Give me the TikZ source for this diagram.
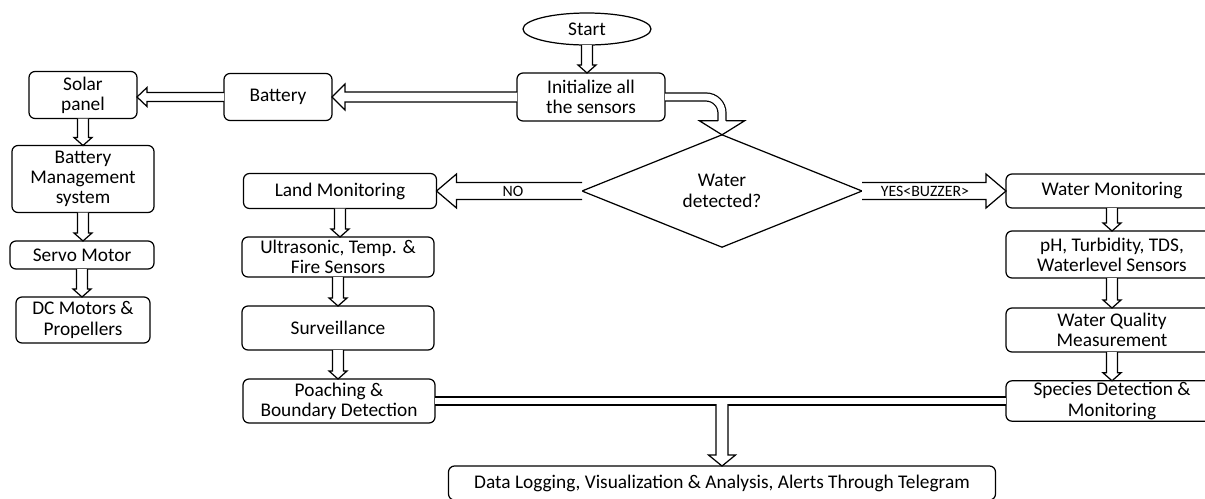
\documentclass[tikz,border=0pt]{standalone}
\usepackage{fontspec}
\setmainfont{Carlito}
\usepackage{tikz}
\usetikzlibrary{
  shapes.geometric,
  positioning,
  calc
}

% hollow block arrow: from, to, shaft half width, head half width, head length
\newcommand{\blockarrow}[5]{%
  \coordinate (hb) at ($(#2)!#5!(#1)$);
  \draw[barrow] ($(#1)!#3!90:(#2)$) -- ($(hb)!#3!90:(#2)$) -- ($(hb)!#4!90:(#2)$)
    -- (#2) -- ($(hb)!#4!-90:(#2)$) -- ($(hb)!#3!-90:(#2)$) -- ($(#1)!#3!-90:(#2)$);
}

\begin{document}
\begin{tikzpicture}[
  x=0.2mm, y=-0.2mm,
  box/.style={draw, rounded corners=1.2mm, line width=0.7pt, align=center, inner sep=1pt, outer sep=0pt,
    font=\fontsize{11}{11.5}\selectfont},
  term/.style={ellipse, draw, line width=0.7pt, inner sep=0pt, outer sep=0pt,
    minimum width=25.6mm, minimum height=6.4mm, font=\fontsize{11}{11.5}\selectfont},
  dec/.style={diamond, draw, line width=0.7pt, inner sep=0pt, outer sep=0pt, align=center,
    minimum width=56mm, minimum height=12.4mm, font=\fontsize{11}{12}\selectfont},
  barrow/.style={draw, fill=white, line width=0.7pt, line join=miter},
  dbl/.style={double, double distance=1.6mm-0.7pt, line width=0.7pt},
  lbl/.style={inner sep=0pt, font=\fontsize{9}{10}\selectfont}
]
  \useasboundingbox (0,0) rectangle (1205,498);

  \node[term] (start) at (587,29) {Start};
  \node[box, minimum width=29.6mm, minimum height=9.6mm] (init) at (591,97) {Initialize all\\the sensors};
  \node[box, minimum width=21.6mm, minimum height=9.4mm] (battery) at (278,97) {Battery};
  \node[box, minimum width=21.6mm, minimum height=9.4mm] (solar) at (83,95) {Solar\\panel};
  \node[box, minimum width=28.4mm, minimum height=13.4mm] (bms) at (83,179) {Battery\\Management\\system};
  \node[box, minimum width=28.8mm, minimum height=5.6mm] (servo) at (82,255) {Servo Motor};
  \node[box, minimum width=26.8mm, minimum height=9.2mm] (dc) at (83,320) {DC Motors \&\\Propellers};

  \node[dec] (water) at (722,191) {Water\\detected?};

  \node[box, minimum width=38.6mm, minimum height=7mm] (land) at (340,191) {Land Monitoring};
  \node[box, minimum width=38.4mm, minimum height=8mm] (ultra) at (338,257) {Ultrasonic, Temp. \&\\Fire Sensors};
  \node[box, minimum width=38.4mm, minimum height=8.8mm] (surv) at (338,328) {Surveillance};
  \node[box, minimum width=38.4mm, minimum height=8.8mm] (poach) at (339,401) {Poaching \&\\Boundary Detection};

  \node[box, minimum width=42.4mm, minimum height=6.8mm] (wmon) at (1112,191) {Water Monitoring};
  \node[box, minimum width=42.4mm, minimum height=9.4mm] (ph) at (1112,254.5) {pH, Turbidity, TDS,\\Waterlevel Sensors};
  \node[box, minimum width=42.4mm, minimum height=8.8mm] (wq) at (1112,330) {Water Quality\\Measurement};
  \node[box, minimum width=42.4mm, minimum height=7.6mm] (species) at (1112,401) {Species Detection \&\\Monitoring};

  \node[box, minimum width=109.4mm, minimum height=6.8mm] (data) at (722,483) {Data Logging, Visualization \& Analysis, Alerts Through Telegram};

  % power chain
  \blockarrow{start.south}{start.south |- init.north}{1.1mm}{1.8mm}{1.6mm}
  \blockarrow{init.west}{battery.east}{1mm}{2.6mm}{2.6mm}
  \blockarrow{battery.west}{battery.west -| solar.east}{0.9mm}{1.9mm}{2mm}
  \foreach \a/\b in {solar/bms, bms/servo, servo/dc, land/ultra, ultra/surv, surv/poach, wmon/ph, ph/wq, wq/species}{
    \blockarrow{\a.south}{\a.south |- \b.north}{1.1mm}{1.8mm}{1.6mm}
  }

  % decision
  \coordinate (cb) at ($(water.north)+(0,2.8mm)$);
  \draw[dbl, rounded corners=3.2mm] (init.east) -| (cb);
  \blockarrow{cb}{water.north}{0.8mm}{4.5mm}{2.8mm}
  \blockarrow{water.west}{land.east}{1.7mm}{3.4mm}{4mm}
  \blockarrow{water.east}{wmon.west}{1.7mm}{3.4mm}{4mm}
  \node[lbl] (no) at (513,191) {NO};
  \node[lbl] (yes) at (925,191) {YES<BUZZER>};

  % merge to logging
  \draw[dbl] (poach.east) -- (species.west);
  \coordinate (bj) at ($(data.north |- poach.east)+(0,-0.6mm)$);
  \blockarrow{bj}{data.north}{1.2mm}{2.7mm}{2.2mm}
\end{tikzpicture}
\end{document}
